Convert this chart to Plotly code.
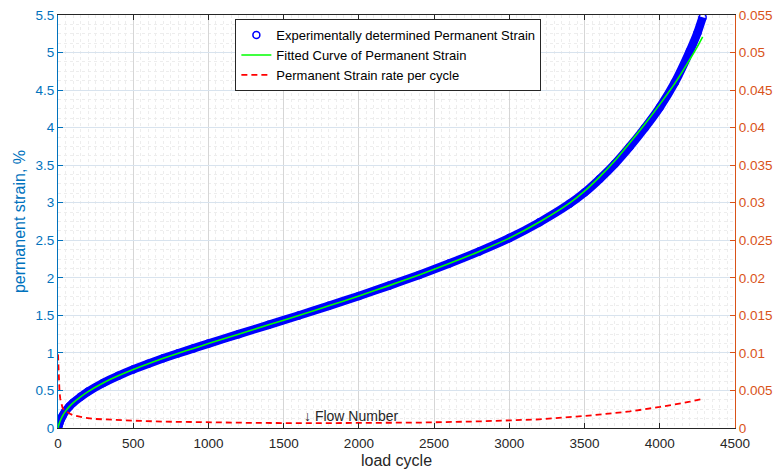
import plotly.graph_objects as go

# Measured permanent strain (%) versus load cycle
cycles_exp = [0, 5, 10, 20, 30, 50, 75, 100, 150, 200, 300, 400, 500, 600, 700, 800, 900,
              1000, 1200, 1400, 1600, 1800, 2000, 2200, 2400, 2600, 2800, 3000, 3200,
              3400, 3500, 3600, 3700, 3800, 3900, 4000, 4100, 4200, 4250, 4285]
strain_exp = [0.000, 0.040, 0.070, 0.120, 0.160, 0.225, 0.285, 0.335, 0.415, 0.485, 0.600,
              0.695, 0.780, 0.857, 0.928, 0.995, 1.060, 1.124, 1.250, 1.374, 1.499, 1.627,
              1.759, 1.896, 2.039, 2.190, 2.352, 2.529, 2.739, 2.985, 3.135, 3.315, 3.515,
              3.745, 3.995, 4.270, 4.600, 5.020, 5.260, 5.470]

# Fitted permanent strain model (%)
cycles_fit = [0, 5, 10, 20, 30, 50, 75, 100, 150, 200, 300, 400, 500, 600, 700, 800, 900,
              1000, 1200, 1400, 1600, 1800, 2000, 2200, 2400, 2600, 2800, 3000, 3200,
              3400, 3500, 3600, 3700, 3800, 3900, 4000, 4100, 4200, 4250, 4285]
strain_fit = [0.000, 0.040, 0.070, 0.120, 0.160, 0.225, 0.285, 0.335, 0.415, 0.485, 0.600,
              0.695, 0.780, 0.857, 0.928, 0.995, 1.060, 1.124, 1.250, 1.374, 1.499, 1.627,
              1.759, 1.896, 2.039, 2.190, 2.352, 2.529, 2.744, 2.995, 3.155, 3.345, 3.555,
              3.795, 4.045, 4.310, 4.590, 4.910, 5.080, 5.210]

# Permanent strain rate per cycle
cycles_rate = [0, 3, 6, 10, 15, 20, 30, 40, 60, 80, 100, 130, 170, 250, 400, 550, 700,
               1000, 1300, 1650, 2000, 2400, 2800, 3000, 3200, 3500, 3800, 4000, 4200, 4285]
rate = [0.0098, 0.0080, 0.0062, 0.0048, 0.0039, 0.0033, 0.0027, 0.0024, 0.0021, 0.0019,
        0.0017, 0.00155, 0.0014, 0.0012, 0.00105, 0.00094, 0.00085, 0.00075, 0.00068,
        0.00064, 0.00066, 0.00072, 0.00088, 0.00098, 0.00115, 0.0016, 0.0022, 0.0028,
        0.0035, 0.0039]

flow_number_cycle = 1620

FONT = "Liberation Sans, Arial, Helvetica, sans-serif"
DARK = "#262626"
AX_BLUE = "#0072BD"
AX_ORANGE = "#D95319"

fig = go.Figure()

# dense band of measured points
fig.add_trace(go.Scatter(
    x=cycles_exp, y=strain_exp, mode="lines",
    line=dict(color="#0000FF", width=8.5, shape="spline", smoothing=0.6),
    showlegend=False, hoverinfo="skip"))
fig.add_trace(go.Scatter(
    x=cycles_exp, y=strain_exp, mode="markers",
    marker=dict(symbol="circle-open", size=7, color="#0000FF", line=dict(width=1.5, color="#0000FF")),
    name="Experimentally determined Permanent Strain"))
fig.add_trace(go.Scatter(
    x=cycles_fit, y=strain_fit, mode="lines",
    line=dict(color="#00FF00", width=1.6, shape="spline", smoothing=0.6),
    name="Fitted Curve of Permanent Strain"))
fig.add_trace(go.Scatter(
    x=cycles_rate, y=rate, mode="lines", yaxis="y2",
    line=dict(color="#FF0000", width=1.8, dash="6px,4px"),
    name="Permanent Strain rate per cycle"))

fig.update_layout(
    width=782, height=470,
    margin=dict(l=58, r=47, t=15, b=42),
    paper_bgcolor="white", plot_bgcolor="white",
    font=dict(family=FONT, size=13.5, color=DARK),
    xaxis=dict(
        range=[0, 4500], tick0=0, dtick=500, automargin=False,
        ticks="inside", ticklen=5, tickcolor=DARK,
        showline=True, linecolor=DARK, linewidth=1, mirror="ticks",
        showgrid=True, gridcolor="#d6d6d6", gridwidth=1, zeroline=False,
        tickfont=dict(size=13.5, color=DARK), ticklabelstandoff=3,
        title=dict(text="load cycle", font=dict(size=16, color=DARK), standoff=4),
        minor=dict(dtick=50, showgrid=True, gridcolor="#ededed", griddash="dot", gridwidth=1),
    ),
    yaxis=dict(
        range=[0, 5.5], tick0=0, dtick=0.5, automargin=False,
        ticks="inside", ticklen=5, tickcolor=AX_BLUE,
        showline=True, linecolor=AX_BLUE, linewidth=1,
        showgrid=True, gridcolor="#d8e3ee", gridwidth=1, zeroline=False,
        tickfont=dict(size=13.5, color=AX_BLUE),
        title=dict(text="permanent strain, %", font=dict(size=16, color=AX_BLUE), standoff=5),
        minor=dict(dtick=0.125, showgrid=True, gridcolor="#ededed", griddash="dot", gridwidth=1),
    ),
    yaxis2=dict(
        overlaying="y", side="right", range=[0, 0.055], tick0=0, dtick=0.005, automargin=False,
        ticks="inside", ticklen=5, tickcolor=AX_ORANGE,
        showline=True, linecolor=AX_ORANGE, linewidth=1,
        showgrid=False, zeroline=False,
        tickfont=dict(size=13.5, color=AX_ORANGE),
    ),
    legend=dict(
        x=0.262, y=0.99, xanchor="left", yanchor="top",
        bgcolor="white", bordercolor=DARK, borderwidth=1,
        font=dict(size=13, color="black"), tracegroupgap=0,
    ),
    annotations=[dict(
        x=flow_number_cycle, y=0.16, xref="x", yref="y",
        text="\u2193 Flow Number", showarrow=False,
        xanchor="left", yanchor="middle",
        font=dict(size=14, color=DARK),
    )],
)

fig.write_html("out.html")
